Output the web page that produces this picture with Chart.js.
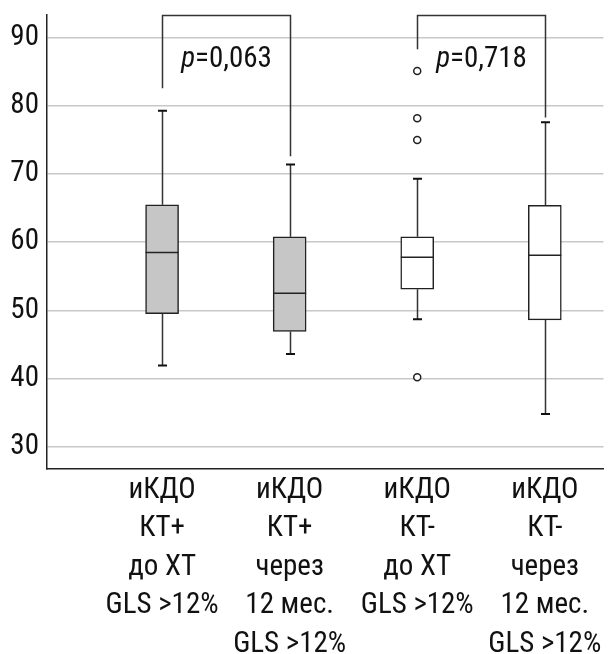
<!DOCTYPE html>
<html>
<head>
<meta charset="utf-8">
<script src="https://cdn.jsdelivr.net/npm/chart.js@4.4.1/dist/chart.umd.min.js"></script>
<style>
  html, body { margin: 0; padding: 0; background: #fff; }
  #wrap { width: 609px; height: 654px; }
</style>
</head>
<body>
<div id="wrap"><canvas id="chart" width="609" height="654"></canvas></div>
<script>
// данные
const categories = [
    ['иКДО', 'КТ+', 'до ХТ', 'GLS >12%'],
    ['иКДО', 'КТ+', 'через', '12 мес.', 'GLS >12%'],
    ['иКДО', 'КТ-', 'до ХТ', 'GLS >12%'],
    ['иКДО', 'КТ-', 'через', '12 мес.', 'GLS >12%']
];
const whiskerLow = [41.9, 43.6, 48.7, 34.8];
const q1 = [49.5, 46.9, 53.1, 48.6];
const medians = [58.5, 52.5, 57.8, 58.1];
const q3 = [65.5, 60.8, 60.8, 65.4];
const whiskerHigh = [79.3, 71.4, 69.3, 77.6];
const outliers = [[], [], [85.1, 78.2, 75.0, 40.2], []];
const boxFill = ['#c6c6c6', '#c6c6c6', '#ffffff', '#ffffff'];
const yTicks = [30, 40, 50, 60, 70, 80, 90];

// сравнения: пары, концы скобок, p
const pairs = [[0, 1], [2, 3]];
const bracketEnds = [[82.6, 72.6], [88.3, 78.3]];
const pLabels = ['0,063', '0,718'];

const FONT = "'Roboto Condensed', 'Liberation Sans Narrow', Roboto, sans-serif";
const FSIZE = 29;
const INK = '#111';

const positions = categories.map((c, i) => i + 1);

const boxData = positions.map((x, i) => ({ x: x, y: [q1[i], q3[i]] }));
const outlierData = [];
outliers.forEach((arr, i) => arr.forEach(v => outlierData.push({ x: positions[i], y: v })));

// усы, медианы, скобки и p — рисуем через шкалы графика
const boxExtras = {
    id: 'boxExtras',
    beforeDatasetsDraw(chart) {
        const { ctx, scales: { x, y } } = chart;
        ctx.save();
        positions.forEach((p, i) => {
            const px = Math.round(x.getPixelForValue(p)) + 0.5;
            ctx.strokeStyle = '#333';
            ctx.lineWidth = 1.5;
            ctx.beginPath();
            ctx.moveTo(px, y.getPixelForValue(whiskerHigh[i]));
            ctx.lineTo(px, y.getPixelForValue(q3[i]));
            ctx.moveTo(px, y.getPixelForValue(q1[i]));
            ctx.lineTo(px, y.getPixelForValue(whiskerLow[i]));
            ctx.stroke();
            ctx.strokeStyle = '#111';
            ctx.lineWidth = 2;
            ctx.beginPath();
            [whiskerHigh[i], whiskerLow[i]].forEach(v => {
                const py = y.getPixelForValue(v);
                ctx.moveTo(px - 4.5, py);
                ctx.lineTo(px + 4.5, py);
            });
            ctx.stroke();
        });
        ctx.restore();
    },
    afterDatasetsDraw(chart) {
        const { ctx, scales: { x, y } } = chart;
        ctx.save();
        // медианы
        ctx.strokeStyle = '#222';
        ctx.lineWidth = 1.5;
        positions.forEach((p, i) => {
            const px = x.getPixelForValue(p);
            const py = y.getPixelForValue(medians[i]);
            ctx.beginPath();
            ctx.moveTo(px - 16.5, py);
            ctx.lineTo(px + 16.5, py);
            ctx.stroke();
        });
        // скобки
        const top = y.getPixelForValue(y.max) + 0.5;
        pairs.forEach((pair, k) => {
            const xa = Math.round(x.getPixelForValue(positions[pair[0]])) + 0.5;
            const xb = Math.round(x.getPixelForValue(positions[pair[1]])) + 0.5;
            ctx.strokeStyle = '#333';
            ctx.lineWidth = 1.5;
            ctx.beginPath();
            ctx.moveTo(xa, y.getPixelForValue(bracketEnds[k][0]));
            ctx.lineTo(xa, top);
            ctx.lineTo(xb, top);
            ctx.lineTo(xb, y.getPixelForValue(bracketEnds[k][1]));
            ctx.stroke();

            const cx = (xa + xb) / 2;
            const by = y.getPixelForValue(85.75);
            ctx.fillStyle = INK;
            ctx.textBaseline = 'alphabetic';
            ctx.textAlign = 'left';
            ctx.font = 'italic ' + FSIZE + 'px ' + FONT;
            const wp = ctx.measureText('p').width;
            ctx.font = FSIZE + 'px ' + FONT;
            const rest = '=' + pLabels[k];
            const wr = ctx.measureText(rest).width;
            const x0 = cx - (wp + wr) / 2;
            ctx.font = 'italic ' + FSIZE + 'px ' + FONT;
            ctx.fillText('p', x0, by);
            ctx.font = FSIZE + 'px ' + FONT;
            ctx.fillText(rest, x0 + wp, by);
        });
        ctx.restore();
    }
};

new Chart(document.getElementById('chart').getContext('2d'), {
    data: {
        datasets: [
            {
                type: 'bar',
                data: boxData,
                backgroundColor: boxFill,
                borderColor: '#222',
                borderWidth: 1.5,
                borderSkipped: false,
                barThickness: 33
            },
            {
                type: 'scatter',
                data: outlierData,
                pointStyle: 'circle',
                pointRadius: 3.5,
                pointBackgroundColor: '#fff',
                pointBorderColor: '#222',
                pointBorderWidth: 1.5
            }
        ]
    },
    options: {
        responsive: false,
        animation: false,
        layout: { padding: { top: 15, right: 0, left: 0, bottom: 0 } },
        plugins: {
            legend: { display: false },
            tooltip: { enabled: false }
        },
        scales: {
            x: {
                type: 'linear',
                offset: false,
                min: 0.098,
                max: 4.46,
                afterBuildTicks: s => { s.ticks = positions.map(v => ({ value: v })); },
                afterFit: s => { s.height = 185; s.paddingLeft = 0; s.paddingRight = 0; },
                grid: { display: false, drawTicks: false },
                border: { display: true, color: '#222', width: 1.5 },
                ticks: {
                    autoSkip: false,
                    maxRotation: 0,
                    padding: 2,
                    color: INK,
                    font: { family: FONT, size: FSIZE, lineHeight: 38.5 / FSIZE },
                    callback: (v) => categories[v - 1]
                }
            },
            y: {
                min: 26.73,
                max: 93.33,
                afterBuildTicks: s => { s.ticks = yTicks.map(v => ({ value: v })); },
                afterFit: s => { s.width = 47; s.paddingTop = 0; s.paddingBottom = 0; },
                grid: { color: '#c8c8c8', lineWidth: 1.5, drawTicks: false },
                border: { display: true, color: '#222', width: 1.5 },
                ticks: {
                    padding: 8,
                    color: INK,
                    font: { family: FONT, size: FSIZE }
                }
            }
        }
    },
    plugins: [boxExtras]
});
</script>
</body>
</html>
